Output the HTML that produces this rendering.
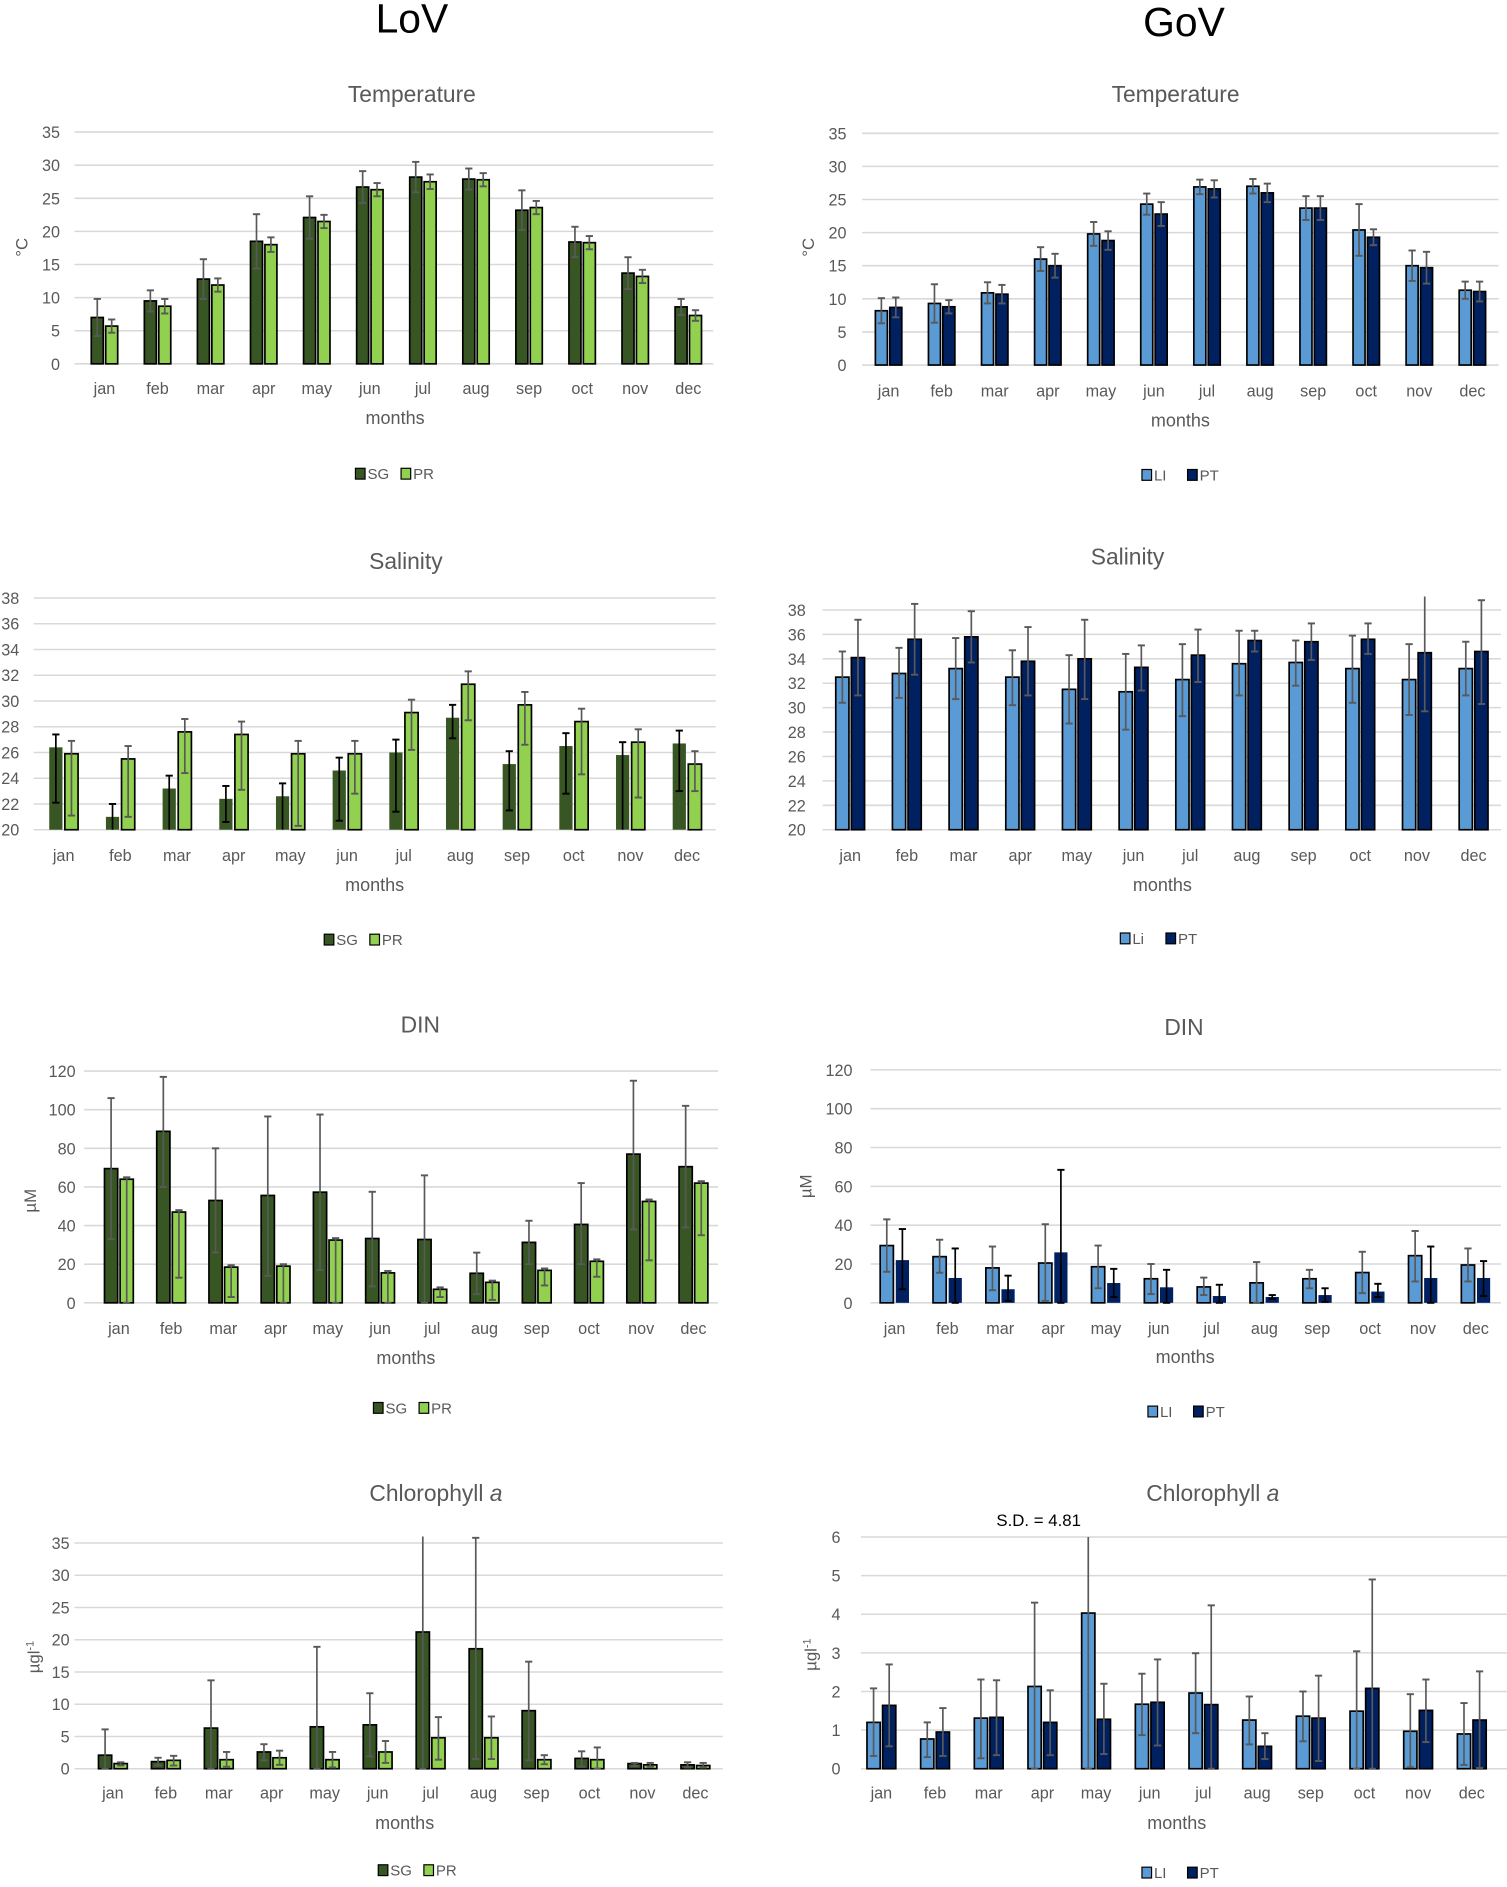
<!DOCTYPE html>
<html><head><meta charset="utf-8">
<style>
html,body{margin:0;padding:0;background:#fff;}
svg{display:block;}
text{font-family:"Liberation Sans",sans-serif;}
</style></head>
<body>
<svg id="s" xmlns="http://www.w3.org/2000/svg" width="1507" height="1887" viewBox="0 0 1255 1571.5">
<text x="343" y="27" font-size="34" text-anchor="middle" fill="#000">LoV</text>
<text x="986" y="30" font-size="34" text-anchor="middle" fill="#000">GoV</text>
<text x="865" y="1271" font-size="14" text-anchor="middle" fill="#000">S.D. = 4.81</text>
</svg>
<script>
const NS="http://www.w3.org/2000/svg";
const svg=document.getElementById('s');
const M=["jan","feb","mar","apr","may","jun","jul","aug","sep","oct","nov","dec"];
function el(t,a,txt){const e=document.createElementNS(NS,t);for(const k in a)e.setAttribute(k,a[k]);if(txt!==undefined)e.textContent=txt;svg.appendChild(e);return e;}
const SG="#375623",PR="#92d050",LI="#5b9bd5",PT="#002060";
function chart(c){
  const sc=v=>c.yb-(v-c.vmin)/(c.vmax-c.vmin)*(c.yb-c.yt);
  for(let v=c.vmin;v<=c.vmax+1e-9;v+=c.step){
    const y=sc(v);
    el('line',{x1:c.gx0,x2:c.gx1,y1:y,y2:y,stroke:'#d9d9d9','stroke-width':1.3});
    el('text',{x:c.lx,y:y+5,'font-size':13.5,'text-anchor':'end',fill:'#595959'},String(v));
  }
  el('text',{x:c.title[0],y:c.title[1]+7,'font-size':19,'text-anchor':'middle',fill:'#595959'},c.tt);
  if(c.italic) {}
  for(let i=0;i<12;i++){
    const cx=c.c0+i*c.sp;
    el('text',{x:cx,y:c.my+5,'font-size':13.5,'text-anchor':'middle',fill:'#595959'},M[i]);
    [[c.A,-1,c.ca,c.oa,c.ea],[c.B,1,c.cb,c.ob,c.eb]].forEach(([d,s,col,ol,ec])=>{
      const [m,lo,hi]=d[i];
      const w=c.bw, x=s<0?cx-1-w:cx+1;
      const yt=sc(m),yb=sc(c.vmin);
      const a={x:x,y:yt,width:w,height:Math.max(0,yb-yt),fill:col};
      if(ol){a.stroke='#000';a['stroke-width']=1.4;}
      el('rect',a);
      const ex=x+w/2, y1=sc(Math.max(lo,c.vmin)), y2=sc(Math.min(hi,c.clip||1e9));
      el('line',{x1:ex,x2:ex,y1:y1,y2:y2,stroke:ec,'stroke-width':1.4});
      if(lo>=c.vmin) el('line',{x1:ex-3,x2:ex+3,y1:y1,y2:y1,stroke:ec,'stroke-width':1.6});
      if(!c.clip||hi<c.clip) el('line',{x1:ex-3,x2:ex+3,y1:y2,y2:y2,stroke:ec,'stroke-width':1.6});
    });
  }
  el('text',{x:c.mt[0],y:c.mt[1]+5,'font-size':15,'text-anchor':'middle',fill:'#595959'},'months');
  const yl=el('text',{transform:`translate(${c.yl[0]+5},${c.yl[1]}) rotate(-90)`,'font-size':14,'text-anchor':'middle',fill:'#595959'},c.ylab);
  if(c.sup){const t=document.createElementNS(NS,'tspan');t.setAttribute('dy','-5');t.setAttribute('font-size','9');t.textContent='-1';yl.appendChild(t);}
  const [lx,ly]=c.lg;
  el('rect',{x:lx-34,y:ly-5,width:8,height:9,fill:c.ca,stroke:'#000','stroke-width':1});
  el('text',{x:lx-24,y:ly+4,'font-size':12.5,fill:'#595959'},c.na);
  el('rect',{x:lx+4,y:ly-5,width:8,height:9,fill:c.cb,stroke:'#000','stroke-width':1});
  el('text',{x:lx+14,y:ly+4,'font-size':12.5,fill:'#595959'},c.nb);
}
function sym(m,h){return m.map((v,i)=>[v,v-(h[i]-v),h[i]]);}
// LoV temperature
chart({tt:'Temperature',title:[343,78],gx0:62,gx1:594,yt:110,yb:303,vmin:0,vmax:35,step:5,lx:50,c0:87,sp:44.2,my:323,bw:10,
 A:sym([7,9.5,12.8,18.5,22.1,26.7,28.2,27.9,23.2,18.4,13.7,8.6],[9.8,11.1,15.8,22.6,25.3,29.1,30.5,29.5,26.2,20.7,16.1,9.8]),
 B:sym([5.7,8.7,11.9,18.0,21.5,26.3,27.5,27.8,23.6,18.3,13.2,7.3],[6.7,9.8,12.9,19.1,22.5,27.3,28.6,28.8,24.6,19.3,14.2,8.1]),
 ca:SG,cb:PR,oa:1,ob:1,ea:'#595959',eb:'#595959',mt:[329,348],yl:[18,206],ylab:'°C',lg:[330,395],na:'SG',nb:'PR'});
// GoV temperature
chart({tt:'Temperature',title:[979,78],gx0:718,gx1:1248,yt:111,yb:304,vmin:0,vmax:35,step:5,lx:705,c0:740,sp:44.2,my:325,bw:10,
 A:sym([8.2,9.3,10.9,16.0,19.8,24.3,26.9,27.0,23.7,20.4,15.0,11.3],[10.1,12.2,12.5,17.8,21.6,25.9,28.0,28.1,25.5,24.3,17.3,12.6]),
 B:sym([8.7,8.8,10.7,15.0,18.8,22.8,26.6,26.0,23.7,19.3,14.7,11.1],[10.2,9.8,12.1,16.8,20.2,24.6,27.9,27.4,25.5,20.5,17.1,12.6]),
 ca:LI,cb:PT,oa:1,ob:1,ea:'#595959',eb:'#595959',mt:[983,350],yl:[673,206],ylab:'°C',lg:[985,396],na:'LI',nb:'PT'});
// LoV salinity
chart({tt:'Salinity',title:[338,467],gx0:28,gx1:596,yt:498,yb:691,vmin:20,vmax:38,step:2,lx:16,c0:53,sp:47.2,my:712,bw:11,
 A:[[26.4,22.1,27.4],[21.0,19,22.0],[23.2,19,24.2],[22.4,20.6,23.4],[22.6,19,23.6],[24.6,20.7,25.6],[26.0,21.4,27.0],[28.7,27.1,29.7],[25.1,21.5,26.1],[26.5,22.8,27.5],[25.8,19,26.8],[26.7,23.0,27.7]],
 B:[[25.9,21.1,26.9],[25.5,21.0,26.5],[27.6,24.4,28.6],[27.4,23.1,28.4],[25.9,20.3,26.9],[25.9,22.8,26.9],[29.1,26.2,30.1],[31.3,28.5,32.3],[29.7,26.6,30.7],[28.4,24.3,29.4],[26.8,22.5,27.8],[25.1,23.0,26.1]],
 ca:SG,cb:PR,oa:0,ob:1,ea:'#000',eb:'#595959',mt:[312,737],yl:[-20,600],ylab:'',lg:[304,783],na:'SG',nb:'PR'});
// GoV salinity
chart({tt:'Salinity',title:[939,463],gx0:685,gx1:1250,yt:508,yb:691,vmin:20,vmax:38,step:2,lx:671,c0:708,sp:47.2,my:712,bw:11,
 A:[[32.5,30.4,34.6],[32.8,30.8,34.9],[33.2,30.7,35.7],[32.5,30.2,34.7],[31.5,28.7,34.3],[31.3,28.2,34.4],[32.3,29.3,35.2],[33.6,31.0,36.3],[33.7,31.8,35.5],[33.2,30.4,35.9],[32.3,29.4,35.2],[33.2,31.0,35.4]],
 B:[[34.1,31.0,37.2],[35.6,32.7,38.5],[35.8,33.7,37.9],[33.8,31.0,36.6],[34.0,30.7,37.2],[33.3,31.4,35.1],[34.3,32.1,36.4],[35.5,34.6,36.3],[35.4,33.9,36.9],[35.6,34.4,36.9],[34.5,29.7,39.2],[34.6,30.3,38.8]],
 ca:LI,cb:PT,oa:1,ob:1,ea:'#595959',eb:'#595959',mt:[968,737],yl:[-20,600],ylab:'',lg:[967,782],na:'Li',nb:'PT',clip:39.1});
// LoV DIN
chart({tt:'DIN',title:[350,853],gx0:70,gx1:598,yt:892,yb:1085,vmin:0,vmax:120,step:20,lx:63,c0:99,sp:43.5,my:1106,bw:11,
 A:[[69.5,33,106],[88.8,60,117],[53,26,80],[55.6,14,96.5],[57.3,17,97.5],[33.3,8.5,57.5],[32.8,0,66],[15.3,4.5,26],[31.3,20,42.5],[40.6,20,62],[77,38,115],[70.5,39,102]],
 B:[[64,0,65],[47,13,48],[18.5,3,19.5],[19,0,20],[32.5,0,33.5],[15.5,0,16.5],[7,3,8],[10.6,1.5,11.5],[16.8,9,17.8],[21.5,13.5,22.5],[52.5,22,53.5],[62,35,63]],
 ca:SG,cb:PR,oa:1,ob:1,ea:'#595959',eb:'#595959',mt:[338,1131],yl:[25,1000],ylab:'µM',lg:[345,1173],na:'SG',nb:'PR'});
// GoV DIN
chart({tt:'DIN',title:[986,855],gx0:725,gx1:1250,yt:891,yb:1085,vmin:0,vmax:120,step:20,lx:710,c0:745,sp:44,my:1106,bw:11,
 A:[[29.5,16,43],[23.8,15.5,32.5],[18,6.5,29],[20.5,1,40.5],[18.6,7.5,29.5],[12.4,4.5,20],[8.2,4,13],[10.3,0,21],[12.4,7.5,17],[15.6,5,26.3],[24.3,11,37],[19.5,11,28]],
 B:[[22,7,38],[12.8,0,28],[7,1,14],[26,0,68.5],[10.2,3,17.5],[8,0,17],[3.5,0,9.3],[3,2,4],[4,0.5,7.5],[5.8,3,9.8],[12.8,0,29],[12.8,3.5,21.5]],
 ca:LI,cb:PT,oa:1,ob:0,ea:'#595959',eb:'#000',mt:[987,1130],yl:[671,988],ylab:'µM',lg:[990,1176],na:'LI',nb:'PT'});
// LoV Chl
chart({tt:'',title:[363,1243],gx0:62,gx1:602,yt:1285,yb:1473,vmin:0,vmax:35,step:5,lx:58,c0:94,sp:44.1,my:1493,bw:11,clip:36,
 A:[[2.1,0,6.1],[1.1,0.5,1.7],[6.3,0,13.7],[2.6,1.3,3.8],[6.5,0,18.9],[6.8,1.9,11.7],[21.2,0,37],[18.6,1.5,35.8],[9,1.3,16.6],[1.6,0.3,2.7],[0.8,0.4,0.9],[0.6,0.2,1.0]],
 B:[[0.8,0.5,1.0],[1.3,0.5,2.0],[1.4,0.3,2.6],[1.7,0.6,2.8],[1.4,0.2,2.6],[2.6,0.9,4.3],[4.8,1.4,8.0],[4.8,1.5,8.1],[1.4,0.7,2.1],[1.4,0,3.3],[0.6,0.3,0.9],[0.5,0.2,0.9]],
 ca:SG,cb:PR,oa:1,ob:1,ea:'#595959',eb:'#595959',mt:[337,1518],yl:[28,1380],ylab:'µgl',sup:1,lg:[349,1558],na:'SG',nb:'PR'});
// GoV Chl
chart({tt:'',title:[1010,1243],gx0:717,gx1:1255,yt:1280,yb:1473,vmin:0,vmax:6,step:1,lx:700,c0:734,sp:44.7,my:1493,bw:11,clip:6,
 A:[[1.2,0.33,2.08],[0.77,0.3,1.2],[1.31,0.27,2.31],[2.13,0,4.3],[4.03,0,7],[1.67,0.87,2.46],[1.96,0.92,2.99],[1.26,0.63,1.87],[1.36,0.71,2.0],[1.49,0,3.04],[0.97,0.04,1.93],[0.9,0.1,1.7]],
 B:[[1.64,0.58,2.7],[0.95,0.33,1.57],[1.33,0.35,2.29],[1.2,0.35,2.03],[1.28,0.38,2.2],[1.72,0.6,2.83],[1.66,0,4.23],[0.58,0.25,0.92],[1.31,0.2,2.41],[2.08,0,4.9],[1.51,0.69,2.31],[1.26,0.02,2.52]],
 ca:LI,cb:PT,oa:1,ob:1,ea:'#595959',eb:'#595959',mt:[980,1518],yl:[675,1378],ylab:'µgl',sup:1,lg:[985,1560],na:'LI',nb:'PT'});
// Chlorophyll titles with italic a
[[363,1250],[1010,1250]].forEach(([x,y])=>{
  const t=el('text',{x:x,y:y,'font-size':19,'text-anchor':'middle',fill:'#595959'},'Chlorophyll ');
  const s=document.createElementNS(NS,'tspan');s.setAttribute('font-style','italic');s.textContent='a';t.appendChild(s);
});
</script>
</body></html>
